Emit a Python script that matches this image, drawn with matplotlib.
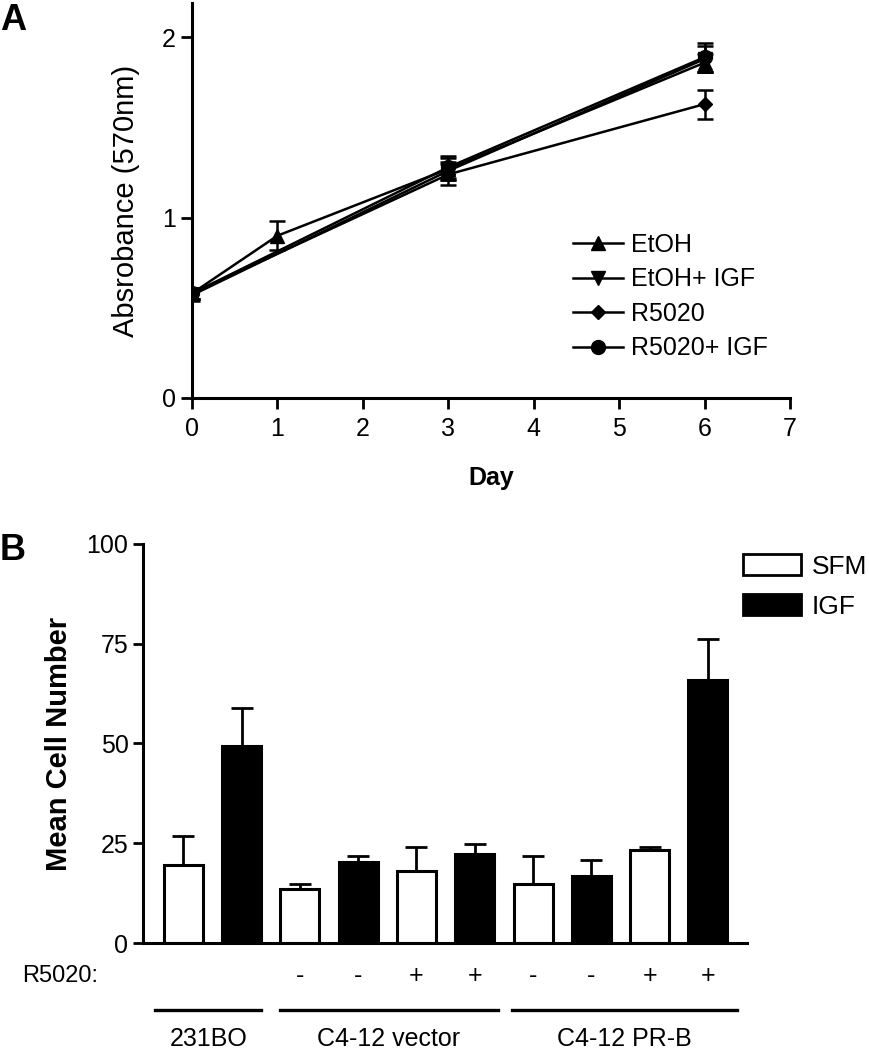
import matplotlib
matplotlib.use('Agg')
import matplotlib.pyplot as plt
import matplotlib.transforms as mtransforms
from matplotlib.patches import Patch

plt.rcParams['font.family'] = ['Liberation Sans', 'DejaVu Sans']

# ---- panel A data: absorbance over time
days_etoh = [0, 1, 3, 6]
etoh = [0.58, 0.90, 1.27, 1.86]
etoh_err = [0.03, 0.08, 0.06, 0.05]

days = [0, 3, 6]
etoh_igf = [0.57, 1.26, 1.88]
etoh_igf_err = [0.03, 0.05, 0.07]
r5020 = [0.58, 1.24, 1.63]
r5020_err = [0.03, 0.06, 0.08]
r5020_igf = [0.58, 1.28, 1.89]
r5020_igf_err = [0.03, 0.06, 0.08]

# ---- panel B data: mean cell number
bar_vals = [19.5, 49.4, 13.6, 20.3, 18.0, 22.4, 14.8, 16.9, 23.2, 65.9]
bar_err = [7.3, 9.5, 1.2, 1.6, 6.1, 2.3, 7.1, 3.8, 0.8, 10.2]
bar_kind = ['SFM', 'IGF'] * 5
r5020_signs = ['', '', '-', '-', '+', '+', '-', '-', '+', '+']
groups = ['231BO', 'C4-12 vector', 'C4-12 PR-B']
group_span = [(-0.48, 1.34), (1.66, 5.4), (5.64, 9.5)]

fig = plt.figure(figsize=(8.7, 10.5), dpi=100)

# ---------------- A
ax = fig.add_axes([0.2207, 0.621, 0.6874, 0.376])
kw = dict(color='black', lw=1.8, ms=10, capsize=6, elinewidth=1.8, capthick=1.8)
ax.errorbar(days_etoh, etoh, yerr=etoh_err, marker='^', label='EtOH', **kw)
ax.errorbar(days, etoh_igf, yerr=etoh_igf_err, marker='v', label='EtOH+ IGF', **kw)
ax.errorbar(days, r5020, yerr=r5020_err, marker='D', label='R5020', **dict(kw, ms=7.5))
ax.errorbar(days, r5020_igf, yerr=r5020_igf_err, marker='o', label='R5020+ IGF', **kw)
ax.set_xlim(0, 7)
ax.set_ylim(0, 2.19)
ax.set_xticks(range(8))
ax.set_yticks([0, 1, 2])
for s in ['top', 'right']:
    ax.spines[s].set_visible(False)
for s in ['left', 'bottom']:
    ax.spines[s].set_linewidth(2.2)
ax.tick_params(width=2, length=8, labelsize=18, direction='out')
ax.tick_params(axis='x', pad=6)
ax.set_ylabel('Absrobance (570nm)', fontsize=21, labelpad=16)
ax.set_xlabel('Day', fontsize=18, fontweight='bold', labelpad=18)
h, l = ax.get_legend_handles_labels()
h = [x[0] for x in h]
ax.legend(h, l, loc='upper left', bbox_to_anchor=(0.6, 0.475), frameon=False,
          fontsize=18, handlelength=2.0, handletextpad=0.3, labelspacing=0.42)
fig.text(0.0, 1 - 20 / 1050, 'A', fontsize=26, fontweight='bold', va='center')

# ---------------- B
bx = fig.add_axes([0.1644, 0.1019, 0.6942, 0.3801])
xpos = list(range(len(bar_vals)))
colors = ['white' if k == 'SFM' else 'black' for k in bar_kind]
bx.bar(xpos, bar_vals, width=0.67, color=colors, edgecolor='black', linewidth=2.2)
bx.errorbar(xpos, bar_vals, yerr=[[0] * len(bar_err), bar_err], fmt='none',
            ecolor='black', elinewidth=2, capsize=8, capthick=2)
bx.set_xlim(-0.69, 9.67)
bx.set_ylim(0, 100)
bx.set_yticks([0, 25, 50, 75, 100])
bx.set_xticks([])
for s in ['top', 'right']:
    bx.spines[s].set_visible(False)
for s in ['left', 'bottom']:
    bx.spines[s].set_linewidth(2.2)
bx.tick_params(axis='y', width=2, length=7, labelsize=18)
bx.set_ylabel('Mean Cell Number', fontsize=21, fontweight='bold', labelpad=10)

tr = mtransforms.blended_transform_factory(bx.transData, bx.transAxes)
for x, s in zip(xpos, r5020_signs):
    if s:
        bx.text(x, -0.083, s, transform=tr, ha='center', va='center', fontsize=18)
fig.text(0.026, 1 - 976 / 1050, 'R5020:', fontsize=17, va='center')
for name, (x0, x1) in zip(groups, group_span):
    bx.plot([x0, x1], [-0.168, -0.168], transform=tr, color='black', lw=2.4,
            clip_on=False)
    bx.text((x0 + x1) / 2, -0.24, name, transform=tr, ha='center', va='center',
            fontsize=18)

leg_h = [Patch(facecolor='white', edgecolor='black', lw=2),
         Patch(facecolor='black', edgecolor='black', lw=2)]
bx.legend(leg_h, ['SFM', 'IGF'], loc='upper left', bbox_to_anchor=(0.993, 0.975),
          frameon=False, fontsize=19, handlelength=2.2, handleheight=0.85,
          handletextpad=0.4, labelspacing=0.6, borderaxespad=0, borderpad=0)
fig.text(0.0, 1 - 550 / 1050, 'B', fontsize=26, fontweight='bold', va='center')

fig.savefig('out.png', dpi=100)
